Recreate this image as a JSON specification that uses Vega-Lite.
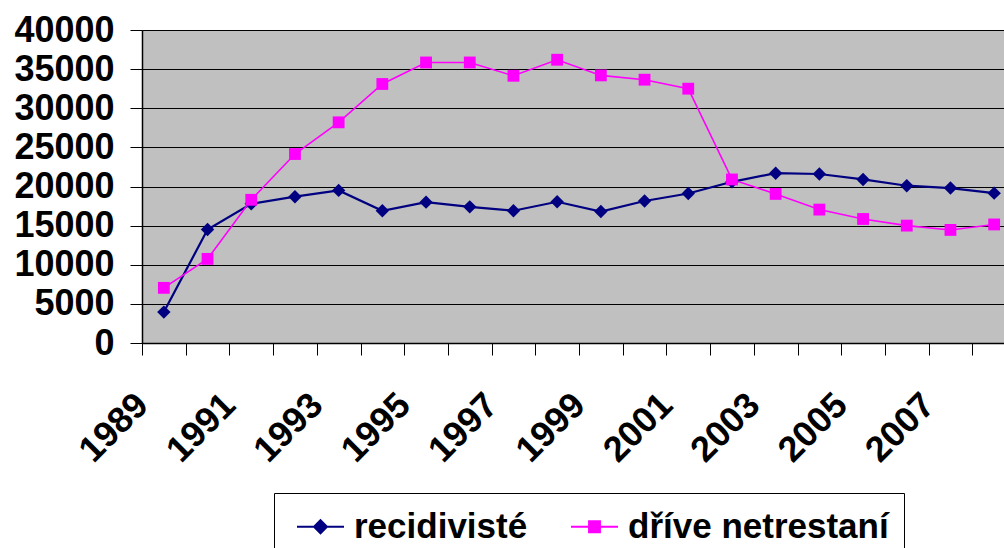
{
  "$schema": "https://vega.github.io/schema/vega-lite/v6.json",
  "width": 862,
  "height": 313,
  "autosize": {"type": "none"},
  "padding": {"left": 142, "top": 30, "right": 0, "bottom": 205},
  "background": "white",
  "config": {
    "view": {"fill": "#C0C0C0", "stroke": "#808080", "strokeWidth": 1},
    "axis": {"labelFont": "Liberation Sans", "labelFontWeight": "bold", "labelFontSize": 36, "labelColor": "black", "domainColor": "black", "tickColor": "black", "title": null}
  },
  "data": {"values": [
    {"year": 1989, "series": "recidivisté", "value": 3950},
    {"year": 1990, "series": "recidivisté", "value": 14500},
    {"year": 1991, "series": "recidivisté", "value": 17800},
    {"year": 1992, "series": "recidivisté", "value": 18700},
    {"year": 1993, "series": "recidivisté", "value": 19500},
    {"year": 1994, "series": "recidivisté", "value": 16900},
    {"year": 1995, "series": "recidivisté", "value": 18000},
    {"year": 1996, "series": "recidivisté", "value": 17400},
    {"year": 1997, "series": "recidivisté", "value": 16900},
    {"year": 1998, "series": "recidivisté", "value": 18050},
    {"year": 1999, "series": "recidivisté", "value": 16800},
    {"year": 2000, "series": "recidivisté", "value": 18150},
    {"year": 2001, "series": "recidivisté", "value": 19100},
    {"year": 2002, "series": "recidivisté", "value": 20600},
    {"year": 2003, "series": "recidivisté", "value": 21700},
    {"year": 2004, "series": "recidivisté", "value": 21600},
    {"year": 2005, "series": "recidivisté", "value": 20900},
    {"year": 2006, "series": "recidivisté", "value": 20100},
    {"year": 2007, "series": "recidivisté", "value": 19800},
    {"year": 2008, "series": "recidivisté", "value": 19150},
    {"year": 1989, "series": "dříve netrestaní", "value": 7050},
    {"year": 1990, "series": "dříve netrestaní", "value": 10750},
    {"year": 1991, "series": "dříve netrestaní", "value": 18300},
    {"year": 1992, "series": "dříve netrestaní", "value": 24150},
    {"year": 1993, "series": "dříve netrestaní", "value": 28200},
    {"year": 1994, "series": "dříve netrestaní", "value": 33100},
    {"year": 1995, "series": "dříve netrestaní", "value": 35850},
    {"year": 1996, "series": "dříve netrestaní", "value": 35850},
    {"year": 1997, "series": "dříve netrestaní", "value": 34150},
    {"year": 1998, "series": "dříve netrestaní", "value": 36200},
    {"year": 1999, "series": "dříve netrestaní", "value": 34200},
    {"year": 2000, "series": "dříve netrestaní", "value": 33650},
    {"year": 2001, "series": "dříve netrestaní", "value": 32500},
    {"year": 2002, "series": "dříve netrestaní", "value": 20900},
    {"year": 2003, "series": "dříve netrestaní", "value": 19050},
    {"year": 2004, "series": "dříve netrestaní", "value": 17050},
    {"year": 2005, "series": "dříve netrestaní", "value": 15850},
    {"year": 2006, "series": "dříve netrestaní", "value": 15000},
    {"year": 2007, "series": "dříve netrestaní", "value": 14450},
    {"year": 2008, "series": "dříve netrestaní", "value": 15150}
  ]},
  "encoding": {
    "x": {"field": "year", "type": "quantitative", "scale": {"domain": [1988.5, 2008.225], "nice": false, "zero": false},
      "axis": {"values": [1988.5, 1989, 1989.5, 1990.5, 1991, 1991.5, 1992.5, 1993, 1993.5, 1994.5, 1995, 1995.5, 1996.5, 1997, 1997.5, 1998.5, 1999, 1999.5, 2000.5, 2001, 2001.5, 2002.5, 2003, 2003.5, 2004.5, 2005, 2005.5, 2006.5, 2007, 2007.5],
        "labelExpr": "datum.value % 1 == 0 ? toString(datum.value) : ''",
        "tickOpacity": {"condition": {"test": "datum.value % 1 == 0", "value": 0}, "value": 1},
        "tickSize": 12, "labelAngle": -45, "labelAlign": "right", "labelBaseline": "middle", "labelPadding": 44, "labelOffset": -22, "labelOverlap": false, "labelBound": false, "labelFlush": false, "grid": false, "domainWidth": 1.5}},
    "y": {"field": "value", "type": "quantitative", "scale": {"domain": [0, 40000], "nice": false},
      "axis": {"values": [0, 5000, 10000, 15000, 20000, 25000, 30000, 35000, 40000], "format": "d", "tickSize": 12, "labelPadding": 16, "grid": true, "gridColor": "black", "gridWidth": 1, "domainWidth": 1.5}},
    "color": {"field": "series", "type": "nominal", "scale": {"domain": ["recidivisté", "dříve netrestaní"], "range": ["#000080", "#FF00FF"]}}
  },
  "layer": [
    {"mark": {"type": "line"},
     "encoding": {"strokeWidth": {"condition": {"test": "datum.series == 'recidivisté'", "value": 2.2}, "value": 1.6}}},
    {"mark": {"type": "point", "filled": true, "opacity": 1},
     "encoding": {"shape": {"condition": {"test": "datum.series == 'recidivisté'", "value": "diamond"}, "value": "square"},
       "size": {"condition": {"test": "datum.series == 'recidivisté'", "value": 180}, "value": 140}}},
    {"transform": [{"filter": "false"}],
     "mark": {"type": "point", "filled": true, "opacity": 1},
     "encoding": {
       "shape": {"field": "series", "type": "nominal",
         "scale": {"domain": ["recidivisté", "dříve netrestaní"], "range": ["M-1.343,0H1.343M0,-0.37L0.37,0L0,0.37L-0.37,0Z", "M-1.343,0H1.343M-0.31,-0.31H0.31V0.31H-0.31Z"]},
         "legend": {"orient": "none", "legendX": 132, "legendY": 463, "direction": "horizontal", "title": null,
           "strokeColor": "black", "fillColor": "white", "padding": 15,
           "labelFont": "Liberation Sans", "labelFontWeight": "bold", "labelFontSize": 35, "labelColor": "black", "labelLimit": 0,
           "symbolSize": 1225, "symbolStrokeWidth": 2, "symbolOffset": 13, "labelOffset": 15, "columnPadding": 35,
           "encode": {"symbols": {"update": {"fill": {"scale": "color", "field": "value"}, "stroke": {"scale": "color", "field": "value"}, "opacity": {"value": 1}, "fillOpacity": {"value": 1}, "strokeOpacity": {"value": 1}}}}}}
     }}
  ]
}
